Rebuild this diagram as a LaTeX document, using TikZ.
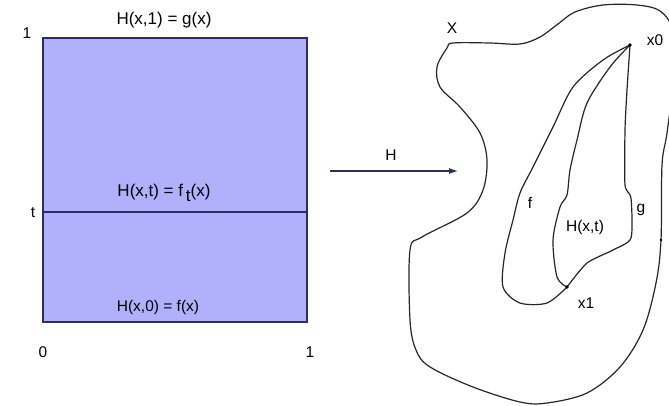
\documentclass[tikz,border=0pt]{standalone}
\usepackage{fontspec}
\setmainfont{Liberation Sans}
\usepackage{tikz}
\usetikzlibrary{arrows.meta}
\usetikzlibrary{positioning}
\definecolor{squarefill}{RGB}{176,176,252}
\definecolor{squareline}{RGB}{45,45,95}

\begin{document}
\begin{tikzpicture}[
x=1pt, y=-1pt,
every node/.style={inner sep=0pt, font=\fontsize{15.5}{18}\selectfont},
biglbl/.style={font=\fontsize{17}{19}\selectfont},
curve/.style={line width=1.2pt, black!85},
dot/.style={circle, fill=black, minimum size=3.6pt, inner sep=0pt}
]
\useasboundingbox (0,0) rectangle (669,406);
% unit square
\fill[squarefill] (43,38) rectangle (307,322);
\draw[squareline, line width=1.3pt] (43,38) rectangle (307,322);
\draw[squareline, line width=1.3pt] (43,212) -- (307,212);
\node (one) at (27,33) {1};
\node (t) at (33,213) {t};
\node (zero) at (43,352) {0};
\node (oneb) at (310,352) {1};
\node[biglbl] (top) at (164,20) {H(x,1) = g(x)};
\node[biglbl] (mid) at (164,193) {H(x,t) = f\,\raisebox{-5pt}{t}(x)};
\node (bot) at (158,307) {H(x,0) = f(x)};
% the map
\coordinate (hl) at (330,171);
\coordinate (hr) at (458,171);
\draw[line width=1.1pt, squareline, -{Latex[length=9pt,width=6pt]}] (hl) -- (hr);
\node (h) at (391,155) {H};
% the space X
\draw[curve] plot[smooth cycle, tension=0.55] coordinates {
(453,43) (490,43) (520,44) (540,37) (558,24) (575,12) (603,5) (637,5)
(660,11) (672,30) (673,80) (667,133) (662,165) (661,240) (656,283)
(643,330) (620,367) (587,393) (547,403) (520,402) (473,387) (430,367)
(416,350) (410,320) (410,250) (422,237) (467,213) (483,190) (487,160)
(480,133) (460,107) (440,87) (437,67) (447,48)};
\coordinate (x0) at (630,45);
\coordinate (x1) at (567,287);
\draw[curve] plot[smooth, tension=0.5] coordinates {
(x0) (603,60) (573,87) (553,127) (533,167) (520,193) (513,220) (505,253)
(503,287) (520,303) (547,303) (x1)};
\draw[curve] plot[smooth, tension=0.5] coordinates {
(x0) (610,67) (587,103) (577,140) (570,170) (567,195) (560,207) (553,240)
(557,277) (x1)};
\draw[curve] plot[smooth, tension=0.4] coordinates {
(x0) (627,90) (625,130) (625,185) (631,198) (631,238) (613,250) (587,263)
(x1)};
\node[dot] at (x0) {};
\node[dot] at (x1) {};
\node[dot, minimum size=2.8pt] (pt) at (661,240) {};
\node (xlbl) at (452,28) {X};
\node (x0lbl) at (655,40) {x0};
\node (flbl) at (530,203) {f};
\node (glbl) at (641,210) {g};
\node (hxt) at (585,227) {H(x,t)};
\node (x1lbl) at (586,303) {x1};
\end{tikzpicture}
\end{document}
